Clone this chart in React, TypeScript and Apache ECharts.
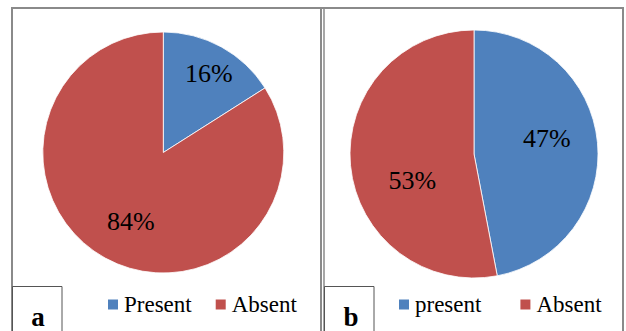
import React, { useEffect, useRef } from "react";
import * as echarts from "echarts";

const categoriesA = ["Present", "Absent"];
const valuesA = [16, 84];
const categoriesB = ["present", "Absent"];
const valuesB = [47, 53];
const panelLabels = ["a", "b"];

const BLUE = "#4F81BD";
const RED = "#C0504D";
const SERIF = "Liberation Serif";

export default function App() {
  const ref = useRef<HTMLDivElement>(null);
  useEffect(() => {
    if (!ref.current) return;
    const chart = echarts.init(ref.current, undefined, { renderer: "svg" });
    const colors = [BLUE, RED];
    const labelOffsetsA = [[15, -24], [-2, 14]];
    const labelOffsetsB = [[8, -9], [3, 20]];
    const gray = "#8a8a8a";
    const labelStyle = {
      show: true,
      position: "inside",
      formatter: "{c}%",
      fontFamily: SERIF,
      fontSize: 26,
      fontWeight: "normal",
      color: "#000",
    };
    chart.setOption({
      animation: false,
      backgroundColor: "#ffffff",
      textStyle: { fontFamily: SERIF },
      legend: [
        {
          data: categoriesA,
          left: 106,
          top: 293,
          padding: 0,
          itemWidth: 12,
          itemHeight: 12,
          itemGap: 22,
          icon: "rect",
          textStyle: { fontFamily: SERIF, fontSize: 23, color: "#000" },
        },
        {
          data: categoriesB,
          left: 397,
          top: 293,
          padding: 0,
          itemWidth: 12,
          itemHeight: 12,
          itemGap: 37,
          icon: "rect",
          textStyle: { fontFamily: SERIF, fontSize: 23, color: "#000" },
        },
      ],
      graphic: [
        { type: "line", shape: { x1: 11, y1: 8, x2: 624, y2: 8 }, style: { stroke: gray, lineWidth: 2 } },
        { type: "line", shape: { x1: 12, y1: 7, x2: 12, y2: 331 }, style: { stroke: gray, lineWidth: 2 } },
        { type: "line", shape: { x1: 623, y1: 7, x2: 623, y2: 331 }, style: { stroke: gray, lineWidth: 2 } },
        { type: "line", shape: { x1: 321, y1: 7, x2: 321, y2: 331 }, style: { stroke: gray, lineWidth: 2 } },
        { type: "line", shape: { x1: 324, y1: 7, x2: 324, y2: 331 }, style: { stroke: gray, lineWidth: 1.5 } },
        { type: "rect", shape: { x: 12.5, y: 286.5, width: 49.5, height: 50 }, style: { fill: "none", stroke: "#555", lineWidth: 1 } },
        { type: "rect", shape: { x: 324.5, y: 286.5, width: 49.5, height: 50 }, style: { fill: "none", stroke: "#555", lineWidth: 1 } },
        {
          type: "text",
          x: 38,
          y: 317,
          style: { text: panelLabels[0], fontFamily: SERIF, fontSize: 27, fontWeight: "bold", fill: "#000", textAlign: "center", textVerticalAlign: "middle" },
        },
        {
          type: "text",
          x: 351,
          y: 317,
          style: { text: panelLabels[1], fontFamily: SERIF, fontSize: 27, fontWeight: "bold", fill: "#000", textAlign: "center", textVerticalAlign: "middle" },
        },
      ],
      series: [
        {
          type: "pie",
          center: [163.3, 152.5],
          radius: 120.5,
          startAngle: 90,
          clockwise: true,
          avoidLabelOverlap: false,
          itemStyle: { borderColor: "#ffffff", borderWidth: 0.8 },
          label: labelStyle,
          labelLine: { show: false },
          emphasis: { disabled: true },
          data: categoriesA.map((n, i) => ({
            name: n,
            value: valuesA[i],
            itemStyle: { color: colors[i] },
            label: { offset: labelOffsetsA[i] },
          })),
        },
        {
          type: "pie",
          center: [474, 154],
          radius: 124,
          startAngle: 90,
          clockwise: true,
          avoidLabelOverlap: false,
          itemStyle: { borderColor: "#ffffff", borderWidth: 0.8 },
          label: labelStyle,
          labelLine: { show: false },
          emphasis: { disabled: true },
          data: categoriesB.map((n, i) => ({
            name: n,
            value: valuesB[i],
            itemStyle: { color: colors[i] },
            label: { offset: labelOffsetsB[i] },
          })),
        },
      ],
    });
    return () => chart.dispose();
  }, []);
  return (
    <div
      ref={ref}
      style={{ position: "fixed", left: 0, top: 0, width: 626, height: 331 }}
    />
  );
}
